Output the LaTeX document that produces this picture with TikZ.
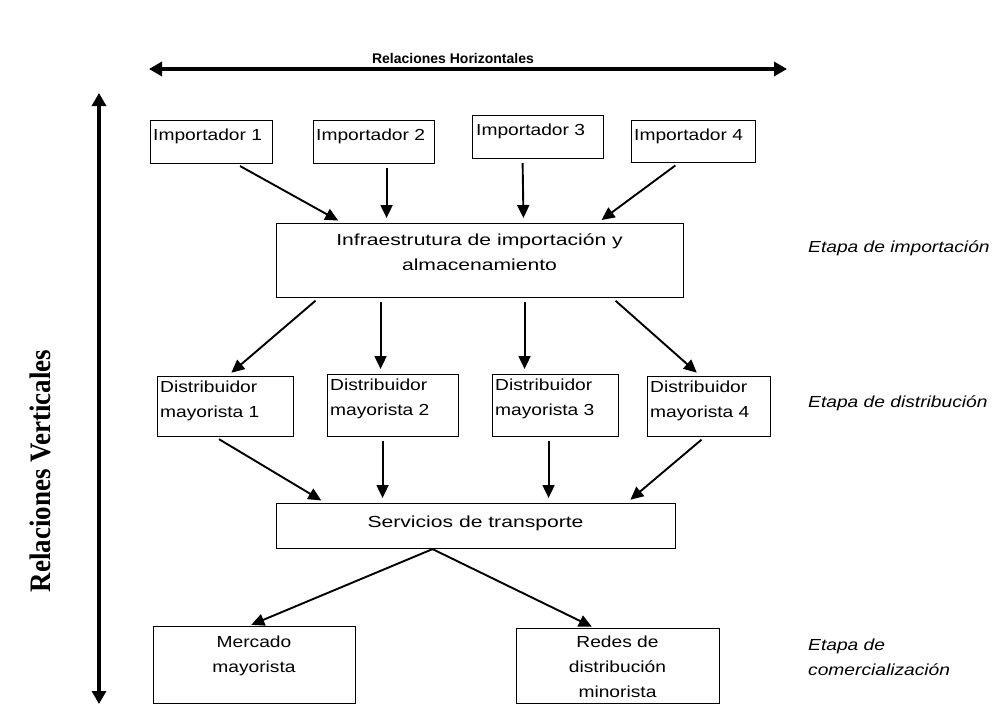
\documentclass[tikz,border=0pt]{standalone}
\usepackage{fontspec}
\usetikzlibrary{arrows.meta,calc}
\setmainfont{Liberation Sans}[FakeStretch=1.2]
\newfontfamily\titlefont{Liberation Sans}[FakeStretch=1.0]
\newfontfamily\widefont{Liberation Sans}[FakeStretch=1.32]
\newfontfamily\serifb{Liberation Serif}
\begin{document}
\begin{tikzpicture}[x=1pt,y=-1pt,
  box/.style={draw, line width=1.1pt, inner sep=0pt, anchor=north west},
  txt/.style={inner sep=0pt, font=\fontsize{16}{25}\selectfont},
  etapa/.style={inner sep=0pt, align=left, font=\fontsize{16}{25}\selectfont\itshape},
  conn/.style={line width=1.9pt, -{Triangle[length=13pt,width=12pt]}, shorten <=4pt, shorten >=5pt},
  bigarrow/.style={line width=3.8pt, {Triangle[length=13pt,width=14pt]}-{Triangle[length=13pt,width=14pt]}}]
\useasboundingbox (0,0) rectangle (997,704);
\fill[white] (0,0) rectangle (997,704);

% titles and big arrows
\node[inner sep=0pt, anchor=base, font=\fontsize{14}{16}\titlefont\bfseries] (htitle) at (453,63) {Relaciones Horizontales};
\coordinate (hl) at (149,69);
\coordinate (hr) at (787,69);
\draw[bigarrow] (hl) -- (hr);
\coordinate (vt) at (99,93);
\coordinate (vb) at (99,704);
\draw[bigarrow] (vt) -- (vb);
\node[inner sep=0pt, rotate=90, font=\fontsize{27}{30}\serifb\bfseries] (vtitle) at (40,471) {\scalebox{1}[1.1]{Relaciones Verticales}};

% boxes
\node[box, minimum width=122pt, minimum height=43pt] (i1) at (150,120) {};
\node[box, minimum width=121pt, minimum height=43pt] (i2) at (313,120) {};
\node[box, minimum width=131pt, minimum height=43pt] (i3) at (472,115) {};
\node[box, minimum width=124pt, minimum height=42pt] (i4) at (631,120) {};
\node[box, minimum width=407pt, minimum height=74pt] (inf) at (276,223) {};
\node[box, minimum width=136pt, minimum height=60pt] (d1) at (157,376) {};
\node[box, minimum width=131pt, minimum height=62pt] (d2) at (327,374) {};
\node[box, minimum width=126pt, minimum height=62pt] (d3) at (492,374) {};
\node[box, minimum width=123pt, minimum height=60pt] (d4) at (647,376) {};
\node[box, minimum width=399pt, minimum height=45pt] (tr) at (276,503) {};
\node[box, minimum width=202pt, minimum height=77pt] (m) at (153,626) {};
\node[box, minimum width=203pt, minimum height=75pt] (r) at (516,628) {};

% texts
\node[txt, anchor=base west] (ti1) at (153,140) {Importador 1};
\node[txt, anchor=base west] (ti2) at (316,140) {Importador 2};
\node[txt, anchor=base west] (ti3) at (476,135) {Importador 3};
\node[txt, anchor=base west] (ti4) at (634,140) {Importador 4};
\node[txt, anchor=north, align=center, font=\fontsize{16}{25}\widefont] (tinf) at (479.5,234) {Infraestrutura de importación y\\almacenamiento};
\node[txt, anchor=north west, align=left] (td1) at (160,381) {Distribuidor\\mayorista 1};
\node[txt, anchor=north west, align=left] (td2) at (330,379) {Distribuidor\\mayorista 2};
\node[txt, anchor=north west, align=left] (td3) at (495,379) {Distribuidor\\mayorista 3};
\node[txt, anchor=north west, align=left] (td4) at (650,381) {Distribuidor\\mayorista 4};
\node[txt, anchor=base, font=\fontsize{16}{25}\widefont] (ttr) at (475.5,527) {Servicios de transporte};
\node[txt, anchor=north, align=center] (tm) at (254,636) {Mercado\\mayorista};
\node[txt, anchor=north, align=center] (tr2) at (617.5,636) {Redes de\\distribución\\minorista};

\node[etapa, anchor=base west] (e1) at (808,252) {Etapa de importación};
\node[etapa, anchor=base west] (e2) at (808,407) {Etapa de distribución};
\node[etapa, anchor=north west] (e3) at (808,639) {Etapa de\\comercialización};

% connectors
\draw[conn] ([xshift=25pt]i1.south) -- ([xshift=-137.5pt]inf.north);
\draw[conn] ([xshift=12.5pt]i2.south) -- ([xshift=-93.5pt]inf.north);
\draw[conn] ([xshift=-15.5pt]i3.south) -- ([xshift=43.5pt]inf.north);
\draw[conn] ([xshift=-15pt]i4.south) -- ([xshift=117.5pt]inf.north);

\draw[conn] ([xshift=-161.5pt]inf.south) -- ([xshift=2pt]d1.north);
\draw[conn] ([xshift=-99.5pt]inf.south) -- ([xshift=-12.5pt]d2.north);
\draw[conn] ([xshift=44.5pt]inf.south) -- ([xshift=-31pt]d3.north);
\draw[conn] ([xshift=132.5pt]inf.south) -- ([xshift=-8.5pt]d4.north);

\draw[conn] ([xshift=-10pt]d1.south) -- ([xshift=-150.5pt]tr.north);
\draw[conn] ([xshift=-10.5pt]d2.south) -- ([xshift=-93.5pt]tr.north);
\draw[conn] ([xshift=-7pt]d3.south) -- ([xshift=72.5pt]tr.north);
\draw[conn] ([xshift=-4.5pt]d4.south) -- ([xshift=150.5pt]tr.north);

\draw[conn, shorten <=0pt, shorten >=3pt] ([xshift=-43.5pt]tr.south) -- ([xshift=-6pt]m.north);
\draw[conn, shorten <=0pt, shorten >=3pt] ([xshift=-43.5pt]tr.south) -- ([xshift=-23.5pt]r.north);
\end{tikzpicture}
\end{document}
